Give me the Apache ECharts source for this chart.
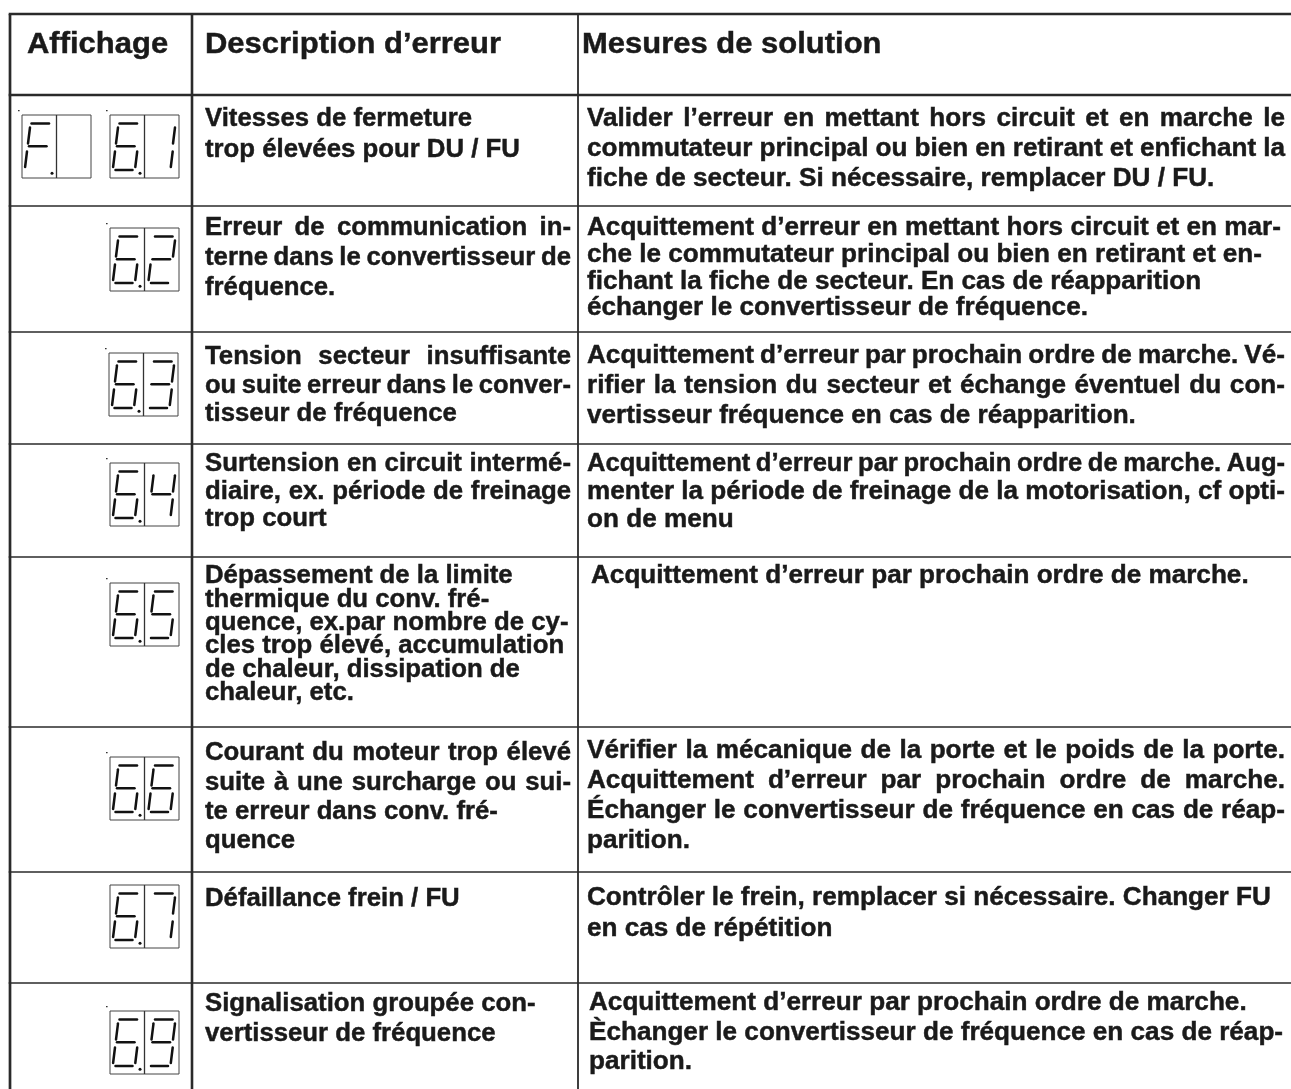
<!DOCTYPE html>
<html>
<head>
<meta charset="utf-8">
<script src="https://cdn.jsdelivr.net/npm/echarts@6/dist/echarts.min.js"></script>
<style>
html,body{margin:0;padding:0;background:#ffffff;}
#chart{width:1291px;height:1089px;}
</style>
</head>
<body>
<div id="chart"></div>
<script>
// ---------- DATA ----------
const headers = ['Affichage', 'Description d\u2019erreur', 'Mesures de solution'];

// seven-segment display codes per row ('.' = decimal point after the preceding digit)
const displayCodes = [
  ['F. ', '6.1'],
  ['6.2'],
  ['6.3'],
  ['6.4'],
  ['6.5'],
  ['6.6'],
  ['6.7'],
  ['6.9']
];

const descriptions = [
  ['Vitesses de fermeture', 'trop élevées pour DU / FU'],
  ['Erreur de communication in-', 'terne dans le convertisseur de', 'fréquence.'],
  ['Tension secteur insuffisante', 'ou suite erreur dans le conver-', 'tisseur de fréquence'],
  ['Surtension en circuit intermé-', 'diaire, ex. période de freinage', 'trop court'],
  ['Dépassement de la limite', 'thermique du conv. fré-', 'quence, ex.par nombre de cy-', 'cles trop élevé, accumulation', 'de chaleur, dissipation de', 'chaleur, etc.'],
  ['Courant du moteur trop élevé', 'suite à une surcharge ou sui-', 'te erreur dans conv. fré-', 'quence'],
  ['Défaillance frein / FU'],
  ['Signalisation groupée con-', 'vertisseur de fréquence']
];

const solutions = [
  ['Valider l\u2019erreur en mettant hors circuit et en marche le', 'commutateur principal ou bien en retirant et enfichant la', 'fiche de secteur. Si nécessaire, remplacer DU / FU.'],
  ['Acquittement d\u2019erreur en mettant hors circuit et en mar-', 'che le commutateur principal ou bien en retirant et en-', 'fichant la fiche de secteur. En cas de réapparition', 'échanger le convertisseur de fréquence.'],
  ['Acquittement d\u2019erreur par prochain ordre de marche. Vé-', 'rifier la tension du secteur et échange éventuel du con-', 'vertisseur fréquence en cas de réapparition.'],
  ['Acquittement d\u2019erreur par prochain ordre de marche. Aug-', 'menter la période de freinage de la motorisation, cf opti-', 'on de menu'],
  ['Acquittement d\u2019erreur par prochain ordre de marche.'],
  ['Vérifier la mécanique de la porte et le poids de la porte.', 'Acquittement d\u2019erreur par prochain ordre de marche.', 'Échanger le convertisseur de fréquence en cas de réap-', 'parition.'],
  ['Contrôler le frein, remplacer si nécessaire. Changer FU', 'en cas de répétition'],
  ['Acquittement d\u2019erreur par prochain ordre de marche.', 'Èchanger le convertisseur de fréquence en cas de réap-', 'parition.']
];

// justified lines (1) vs ragged lines (0)
const descJustify = [[0,0],[1,1,0],[1,1,0],[1,1,0],[0,0,0,0,0,0],[1,1,0,0],[0],[0,0]];
const solJustify  = [[1,1,0],[0,0,0,0],[1,1,0],[1,1,0],[0],[1,1,1,0],[0,0],[0,0,0]];

// ---------- LAYOUT (positions / sizes / styles) ----------
const W = 1291, H = 1089;
const rowEdges = [14, 95, 206, 332, 444, 557, 727, 872, 983, H];
const colEdges = [10, 192, 578];
const descX = [205, 571];
const solX = [587, 1285];
// [first baseline, line height]
const descLines = [[128,31],[237,30],[366,28.5],[473,27.5],[585,23.4],[762,29.3],[908,30],[1013,30]];
const solLines  = [[128,30],[237,26.7],[365,30],[473,28],[585,30],[760,30],[907,31],[1012,29.5]];
const solIndent = [0,0,0,0,4,0,0,2];
const displayTop = [115, 228, 353, 463, 583, 757, 885, 1011];
const displayLeft = [[22, 110],[110],[109],[110],[110],[110],[110],[110]];
const displayMark = [1,1,1,1,1,1,0,1];
const BOX_W = 69, BOX_H = 63;

const FONT_FAMILY = '"Liberation Sans", Arial, Helvetica, sans-serif';
const TEXT_COLOR = '#1a1a1a';
const LINE_COLOR = '#2a2a2a';
const HEAD_SIZE = 29.5, HEAD_SX = 1.05;
const BODY_SIZE = 25, DESC_SX = 1.03, SOL_SX = 1.045;
const MIN_GAP = 5.6;
const TEXT_STROKE = 0.45;
const headX = [27, 205, 582];
const headBaseline = 55;

// seven segment geometry (relative to a digit cell)
const SEG = {
  a: [[9.5, 8.5], [27, 8.5]],
  b: [[29.5, 12.5], [27.5, 28.5]],
  c: [[27.2, 36.5], [25.3, 52]],
  d: [[5.5, 55], [22.5, 55]],
  e: [[5, 36.5], [3.1, 52]],
  f: [[8, 12.5], [6, 28.5]],
  g: [[7, 31.2], [24.5, 31.2]]
};
const DIGIT_SEGS = {'0':'abcdef','1':'bc','2':'abged','3':'abgcd','4':'fgbc','5':'afgcd','6':'afgedc','7':'abc','8':'abcdefg','9':'abcdfg','F':'aefg',' ':''};

const mctx = document.createElement('canvas').getContext('2d');
function measure(str, size) {
  mctx.font = 'bold ' + size + 'px ' + FONT_FAMILY;
  return mctx.measureText(str).width;
}

function parseCode(code) {
  const digits = [];
  for (const ch of code) {
    if (ch === '.') { digits[digits.length - 1].dp = true; }
    else digits.push({ ch: ch, dp: false });
  }
  return digits;
}

function renderItem(params, api) {
  const r = api.value(0);
  const P = (x, y) => api.coord([x, y]);
  const children = [];

  function line(x1, y1, x2, y2, w, color) {
    const a = P(x1, y1), b = P(x2, y2);
    children.push({ type: 'line', shape: { x1: a[0], y1: a[1], x2: b[0], y2: b[1] },
      style: { stroke: color || LINE_COLOR, lineWidth: w, lineCap: 'butt' } });
  }
  function word(str, x, baseline, size, sx) {
    const p = P(x, baseline);
    children.push({ type: 'text', x: p[0], y: p[1] - 0.347 * size, scaleX: sx, scaleY: 1,
      style: { text: str, font: 'bold ' + size + 'px ' + FONT_FAMILY, fill: TEXT_COLOR,
        stroke: TEXT_COLOR, lineWidth: TEXT_STROKE,
        textAlign: 'left', textVerticalAlign: 'middle', align: 'left', verticalAlign: 'middle' } });
  }
  function paragraph(lines, just, x0, x1, first, lh, size, sx) {
    lines.forEach(function (ln, k) {
      const base = first + k * lh;
      if (just[k]) {
        const words = ln.split(' ');
        const raw = words.map(w => measure(w, size));
        const rawTot = raw.reduce((s, v) => s + v, 0);
        const n = Math.max(words.length - 1, 1);
        let s = sx;
        if (rawTot * s + n * MIN_GAP > x1 - x0) s = (x1 - x0 - n * MIN_GAP) / rawTot;
        const gap = words.length > 1 ? (x1 - x0 - rawTot * s) / (words.length - 1) : 0;
        let x = x0;
        words.forEach(function (w, i) { word(w, x, base, size, s); x += raw[i] * s + gap; });
      } else {
        const avail = x1 - x0;
        const wid = measure(ln, size) * sx;
        word(ln, x0, base, size, wid > avail ? avail / measure(ln, size) : sx);
      }
    });
  }

  const top = rowEdges[r], bottom = rowEdges[r + 1];
  line(colEdges[0] - 1.3, top, W, top, r <= 1 ? 2.4 : 1.7);
  line(colEdges[0], top, colEdges[0], bottom, 2.7);
  line(colEdges[1], top, colEdges[1], bottom, 2.6);
  line(colEdges[2], top, colEdges[2], bottom, 1.8);

  if (r === 0) {
    headers.forEach(function (h, i) { word(h, headX[i], headBaseline, HEAD_SIZE, HEAD_SX); });
    return { type: 'group', children: children };
  }
  const i = r - 1;
  displayCodes[i].forEach(function (code, k) {
    const bx = displayLeft[i][k], by = displayTop[i];
    const p0 = P(bx, by), p1 = P(bx + BOX_W, by + BOX_H);
    children.push({ type: 'rect', shape: { x: p0[0], y: p0[1], width: p1[0] - p0[0], height: p1[1] - p0[1] },
      style: { fill: 'none', stroke: '#444', lineWidth: 1 } });
    line(bx + BOX_W / 2, by, bx + BOX_W / 2, by + BOX_H, 1.3, '#333');
    if (displayMark[i]) {
      const m = P(bx - 4, by - 5);
      children.push({ type: 'rect', shape: { x: m[0], y: m[1], width: 1.6, height: 1.2 }, style: { fill: '#333' } });
    }
    parseCode(code).forEach(function (d, j) {
      const cx = bx + j * BOX_W / 2 + (j === 1 ? 1 : 0);
      const segs = DIGIT_SEGS[d.ch] || '';
      for (const s of segs) {
        const g = SEG[s];
        const a = P(cx + g[0][0], by + g[0][1]), b = P(cx + g[1][0], by + g[1][1]);
        children.push({ type: 'line', shape: { x1: a[0], y1: a[1], x2: b[0], y2: b[1] },
          style: { stroke: '#111', lineWidth: 2.5, lineCap: 'round' } });
      }
      if (d.dp) {
        const c = P(cx + 30, by + 58.3);
        children.push({ type: 'circle', shape: { cx: c[0], cy: c[1], r: 1.5 }, style: { fill: '#111' } });
      }
    });
  });
  paragraph(descriptions[i], descJustify[i], descX[0], descX[1], descLines[i][0], descLines[i][1], BODY_SIZE, DESC_SX);
  paragraph(solutions[i], solJustify[i], solX[0] + solIndent[i], solX[1], solLines[i][0], solLines[i][1], BODY_SIZE, SOL_SX);
  return { type: 'group', children: children };
}

const rowIndex = [];
for (let r = 0; r <= displayCodes.length; r++) rowIndex.push([r]);

const chart = echarts.init(document.getElementById('chart'), null, { renderer: 'canvas' });
chart.setOption({
  animation: false,
  backgroundColor: '#ffffff',
  grid: { left: 0, right: 0, top: 0, bottom: 0 },
  xAxis: { type: 'value', min: 0, max: W, show: false },
  yAxis: { type: 'value', min: 0, max: H, inverse: true, show: false },
  series: [{
    type: 'custom',
    coordinateSystem: 'cartesian2d',
    renderItem: renderItem,
    data: rowIndex,
    clip: false,
    silent: true
  }]
});
</script>
</body>
</html>
